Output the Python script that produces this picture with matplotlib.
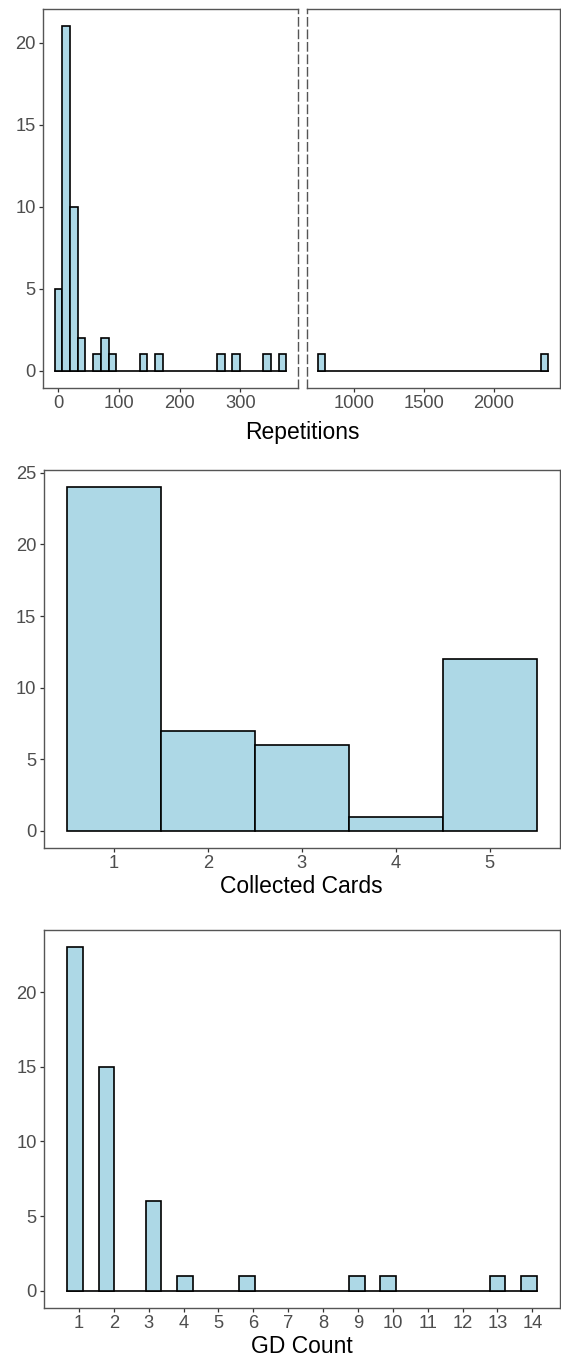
import numpy as np
import matplotlib
matplotlib.use("Agg")
import matplotlib.pyplot as plt

plt.rcParams['font.family'] = ['Liberation Sans', 'DejaVu Sans']

# ---------------- data ----------------
# Repetitions: histogram bins (centre, count), left part of the broken axis
rep_left_centers = [0, 12.7, 25.5, 38.2, 63.7, 76.4, 89.2, 140.1, 165.6, 267.5, 293.0, 344.0, 369.5]
rep_left_counts = [5, 21, 10, 2, 1, 2, 1, 1, 1, 1, 1, 1, 1]
rep_left_width = 12.74
# right part of the broken axis (outliers)
rep_right_centers = [765, 2365]
rep_right_counts = [1, 1]
rep_right_width = 53
rep_left_ticks = [0, 100, 200, 300]
rep_right_ticks = [1000, 1500, 2000]

# Collected cards
cards = [1, 2, 3, 4, 5]
cards_counts = [24, 7, 6, 1, 12]

# GD count
gd_values = [1, 2, 3, 4, 6, 9, 10, 13, 14]
gd_counts = [23, 15, 6, 1, 1, 1, 1, 1, 1]

FILL = '#ADD8E6'
EDGE = 'black'
BLW = 1.2
SPINE_C = '#555555'
TICK_C = '#333333'
LAB_C = '#4D4D4D'
TSIZE = 13.2
XLSIZE = 16.5

W, H = 561, 1361
fig = plt.figure(figsize=(W / 100, H / 100), dpi=100)


def box(x0, y0, x1, y1):
    return [x0 / W, 1 - y1 / H, (x1 - x0) / W, (y1 - y0) / H]


def style(ax):
    for s in ax.spines.values():
        s.set_color(SPINE_C)
        s.set_linewidth(1.0)
    ax.tick_params(axis='both', direction='out', length=3.2, width=0.9,
                   color=TICK_C, labelcolor=LAB_C, labelsize=TSIZE, pad=2)


def expand(lo, hi, f=0.05):
    d = hi - lo
    return lo - f * d, hi + f * d


# ---------------- top: Repetitions ----------------
axL = fig.add_axes(box(43, 9, 298, 388))
axR = fig.add_axes(box(306.5, 9, 560, 388))

ymax_top = max(max(rep_left_counts), max(rep_right_counts))
ylim_top = expand(0, ymax_top)

lc = np.array(rep_left_centers)
axL.bar(lc - rep_left_width / 2, rep_left_counts, width=rep_left_width, align='edge',
        color=FILL, edgecolor=EDGE, linewidth=BLW, zorder=3)
lo = lc.min() - rep_left_width / 2
hi = lc.max() + rep_left_width / 2
axL.plot([lo, hi], [0, 0], color=EDGE, lw=BLW, zorder=2)
axL.set_xlim(*expand(lo, hi))
axL.set_ylim(*ylim_top)
axL.set_xticks(rep_left_ticks)
axL.set_yticks([0, 5, 10, 15, 20])
style(axL)
axL.spines['right'].set_linestyle((0, (6, 3)))

rc = np.array(rep_right_centers)
axR.bar(rc - rep_right_width / 2, rep_right_counts, width=rep_right_width, align='edge',
        color=FILL, edgecolor=EDGE, linewidth=BLW, zorder=3)
lo = rc.min() - rep_right_width / 2
hi = rc.max() + rep_right_width / 2
axR.plot([lo, hi], [0, 0], color=EDGE, lw=BLW, zorder=2)
axR.set_xlim(*expand(lo, hi))
axR.set_ylim(*ylim_top)
axR.set_xticks(rep_right_ticks)
axR.set_yticks([])
style(axR)
axR.spines['left'].set_linestyle((0, (6, 3)))

fig.text(302 / W, 1 - 432 / H, 'Repetitions', ha='center', va='center',
         fontsize=XLSIZE, color='black')

# ---------------- middle: Collected Cards ----------------
axM = fig.add_axes(box(43.5, 470, 560, 848))
axM.bar(np.array(cards) - 0.5, cards_counts, width=1.0, align='edge',
        color=FILL, edgecolor=EDGE, linewidth=BLW, zorder=3)
axM.set_xlim(*expand(min(cards) - 0.5, max(cards) + 0.5))
axM.set_ylim(*expand(0, max(cards_counts)))
axM.set_xticks(cards)
axM.set_yticks([0, 5, 10, 15, 20, 25])
style(axM)
axM.set_xlabel('Collected Cards', fontsize=XLSIZE, color='black', labelpad=2)

# ---------------- bottom: GD Count ----------------
axB = fig.add_axes(box(44, 930, 560, 1308))
gmin, gmax = min(gd_values), max(gd_values)
bw = (gmax - gmin) / 29
boundary = bw / 2
shift = np.floor((gmin - boundary) / bw)
origin = boundary + shift * bw
gv = np.array(gd_values, dtype=float)
lefts = origin + np.floor((gv - origin) / bw + 1e-9) * bw
axB.bar(lefts, gd_counts, width=bw, align='edge',
        color=FILL, edgecolor=EDGE, linewidth=BLW, zorder=3)
lo = origin
hi = lefts.max() + bw
axB.plot([lo, hi], [0, 0], color=EDGE, lw=BLW, zorder=2)
axB.set_xlim(*expand(lo, hi))
axB.set_ylim(*expand(0, max(gd_counts)))
axB.set_xticks(np.arange(1, 15))
axB.set_yticks([0, 5, 10, 15, 20])
style(axB)
axB.set_xlabel('GD Count', fontsize=XLSIZE, color='black', labelpad=2)

fig.savefig('out.png', dpi=100)
